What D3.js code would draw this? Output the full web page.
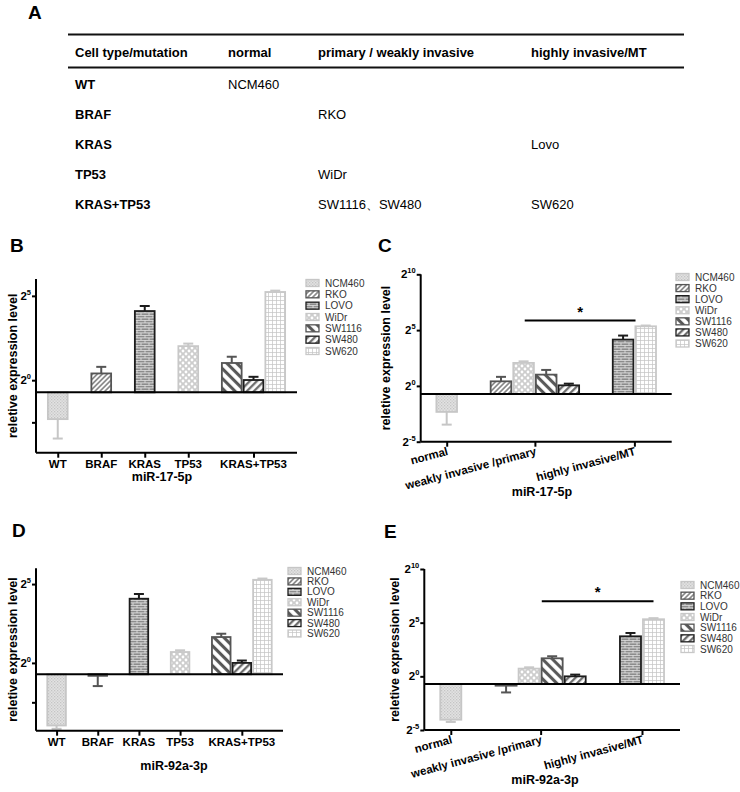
<!DOCTYPE html>
<html><head><meta charset="utf-8">
<script src="https://cdn.jsdelivr.net/npm/d3@7"></script>
<style>
body{margin:0;background:#fff;}
svg{font-family:"Liberation Sans",Arial,sans-serif;}
</style></head>
<body><svg id="fig" width="740" height="792"></svg>
<script>
// ---------- data ----------
const tableHeader = ["Cell type/mutation","normal","primary / weakly invasive","highly invasive/MT"];
const tableRows = ["WT","BRAF","KRAS","TP53","KRAS+TP53"];
const tableNormal = ["NCM460","","","",""];
const tablePrimary = ["","RKO","","WiDr","SW1116、SW480"];
const tableHighly = ["","","Lovo","","SW620"];

const seriesNames = ["NCM460","RKO","LOVO","WiDr","SW1116","SW480","SW620"];
const mutationCats = ["WT","BRAF","KRAS","TP53","KRAS+TP53"];
const mutationGroups = [["NCM460"],["RKO"],["LOVO"],["WiDr"],["SW1116","SW480","SW620"]];
const invasiveCats = ["normal","weakly invasive /primary","highly invasive/MT"];
const invasiveGroups = [["NCM460"],["RKO","WiDr","SW1116","SW480"],["LOVO","SW620"]];

// values as log2(relative expression), order = seriesNames; SEM in log2 units
const b17 = [-2.31, 0.40, 4.10, 2.02, 1.02, 0.01, 5.23];
const b17Sem = [1.15, 0.39, 0.30, 0.15, 0.37, 0.19, 0.08];
const c17 = [-2.33, 0.41, 4.15, 2.06, 1.01, 0.05, 5.34];
const c17Sem = [1.14, 0.40, 0.36, 0.14, 0.42, 0.15, 0.07];
const d92 = [-3.97, -0.82, 4.07, 0.69, 1.64, 0.00, 5.27];
const d92Sem = [0.21, 0.65, 0.30, 0.11, 0.21, 0.15, 0.08];
const e92 = [-4.04, -0.87, 3.73, 0.72, 1.68, 0.00, 5.32];
const e92Sem = [0.21, 0.63, 0.31, 0.12, 0.19, 0.16, 0.10];
const barBase = -0.72;            // bars begin at 2^-0.72
const ticksMut = [5, 0, -2.5];    // labelled: 5, 0
const ticksInv = [10, 5, 0, -5];

// ---------- styles ----------
const outline = {NCM460:"#c6c6c6",RKO:"#555",LOVO:"#1c1c1c",WiDr:"#c8c8c8",SW1116:"#555",SW480:"#1c1c1c",SW620:"#c8c8c8"};
const patId = {NCM460:"pNcm",RKO:"pRko",LOVO:"pLovo",WiDr:"pWidr",SW1116:"pSw1116",SW480:"pSw480",SW620:"pSw620"};

const svg = d3.select("#fig");
const defs = svg.append("defs");
function pat(id,w,h,transform){const p=defs.append("pattern").attr("id",id).attr("patternUnits","userSpaceOnUse").attr("width",w).attr("height",h);if(transform)p.attr("patternTransform",transform);return p;}
let p;
p=pat("pNcm",3,3);p.append("rect").attr("width",3).attr("height",3).attr("fill","#e2e2e2");
p.append("rect").attr("x",0).attr("y",0).attr("width",1.3).attr("height",1.3).attr("fill","#c4c4c4");
p.append("rect").attr("x",1.5).attr("y",1.5).attr("width",1.3).attr("height",1.3).attr("fill","#cacaca");
p=pat("pRko",3.5,3.5,"rotate(45)");p.append("rect").attr("width",3.5).attr("height",3.5).attr("fill","#fff");
p.append("line").attr("x1",0.8).attr("x2",0.8).attr("y1",0).attr("y2",3.5).attr("stroke","#7a7a7a").attr("stroke-width",1.5);
p=pat("pLovo",8,5);p.append("rect").attr("width",8).attr("height",5).attr("fill","#8c8c8c");
p.append("line").attr("x1",0).attr("x2",8).attr("y1",0.4).attr("y2",0.4).attr("stroke","#e8e8e8").attr("stroke-width",0.8);
p.append("line").attr("x1",0).attr("x2",8).attr("y1",2.9).attr("y2",2.9).attr("stroke","#e8e8e8").attr("stroke-width",0.8);
p.append("line").attr("x1",1).attr("x2",1).attr("y1",0.4).attr("y2",2.9).attr("stroke","#e8e8e8").attr("stroke-width",0.8);
p.append("line").attr("x1",5).attr("x2",5).attr("y1",2.9).attr("y2",5).attr("stroke","#e8e8e8").attr("stroke-width",0.8);
p=pat("pWidr",6,6);p.append("rect").attr("width",6).attr("height",6).attr("fill","#cdcdcd");
[[0,0],[6,0],[0,6],[6,6],[3,3]].forEach(c=>p.append("circle").attr("cx",c[0]).attr("cy",c[1]).attr("r",1.4).attr("fill","#fff"));
p=pat("pSw1116",7,7,"rotate(-45)");p.append("rect").attr("width",7).attr("height",7).attr("fill","#fff");
p.append("line").attr("x1",1.6).attr("x2",1.6).attr("y1",0).attr("y2",7).attr("stroke","#555").attr("stroke-width",3);
p=pat("pSw480",5,5,"rotate(45)");p.append("rect").attr("width",5).attr("height",5).attr("fill","#fff");
p.append("line").attr("x1",1.2).attr("x2",1.2).attr("y1",0).attr("y2",5).attr("stroke","#666").attr("stroke-width",2.2);
p=pat("pSw620",4,4);p.append("rect").attr("width",4).attr("height",4).attr("fill","#fff");
p.append("line").attr("x1",0.4).attr("x2",0.4).attr("y1",0).attr("y2",4).attr("stroke","#c4c4c4").attr("stroke-width",0.8);
p.append("line").attr("x1",0).attr("x2",4).attr("y1",0.4).attr("y2",0.4).attr("stroke","#c4c4c4").attr("stroke-width",0.8);

// ---------- panel letters ----------
[["A",28,19],["B",10,252],["C",378,252],["D",12,537],["E",384,538]].forEach(l=>
  svg.append("text").attr("x",l[1]).attr("y",l[2]).attr("font-size",19).attr("font-weight","bold").text(l[0]));

// ---------- table A ----------
const colX = [75,228,318,531];
const tbl = svg.append("g");
tbl.append("line").attr("x1",68).attr("x2",684).attr("y1",34.5).attr("y2",34.5).attr("stroke","#111").attr("stroke-width",2);
tbl.append("line").attr("x1",68).attr("x2",684).attr("y1",67.5).attr("y2",67.5).attr("stroke","#111").attr("stroke-width",2);
tableHeader.forEach((h,i)=>tbl.append("text").attr("x",colX[i]).attr("y",56.5).attr("font-size",13).attr("font-weight","bold").text(h));
const rowY = d3.scaleLinear().domain([0,4]).range([88.5,208.5]);
tableRows.forEach((r,i)=>{
  tbl.append("text").attr("x",colX[0]).attr("y",rowY(i)).attr("font-size",13).attr("font-weight","bold").text(r);
  [tableNormal,tablePrimary,tableHighly].forEach((col,j)=>{ if(col[i]) tbl.append("text").attr("x",colX[j+1]).attr("y",rowY(i)).attr("font-size",13).text(col[i]);});
});

// ---------- bar panels ----------
function panel(cfg){
  const g = svg.append("g");
  const sizes = cfg.groups.map(a=>a.length);
  const T = cfg.pad*2 + d3.sum(sizes) + cfg.gap*(sizes.length-1);
  const x = d3.scaleLinear().domain([0,T]).range([cfg.x0,cfg.x1]);
  const y = d3.scaleLinear().domain(cfg.domain).range([cfg.yb,cfg.yt]);
  const bw = x(1)-x(0);
  const centers=[]; const bars=[];
  let pos = cfg.pad;
  cfg.groups.forEach((grp,gi)=>{
    centers.push(pos + grp.length/2);
    grp.forEach((s,j)=>{ const k=seriesNames.indexOf(s); bars.push({s,left:pos+j,v:cfg.values[k],e:cfg.sem[k]}); });
    pos += grp.length + cfg.gap;
  });
  // error bars
  bars.forEach(b=>{
    const dir = b.v>=barBase?1:-1;
    const cx = x(b.left+0.5), end = y(b.v+dir*b.e);
    g.append("line").attr("x1",cx).attr("x2",cx).attr("y1",y(b.v)).attr("y2",end).attr("stroke",outline[b.s]).attr("stroke-width",2);
    g.append("line").attr("x1",cx-5).attr("x2",cx+5).attr("y1",end).attr("y2",end).attr("stroke",outline[b.s]).attr("stroke-width",2);
  });
  // bars
  bars.forEach(b=>{
    const top = Math.min(y(b.v),y(barBase)), h = Math.abs(y(b.v)-y(barBase));
    g.append("rect").attr("x",x(b.left)+1).attr("y",top).attr("width",bw-2).attr("height",h)
      .attr("fill","url(#"+patId[b.s]+")").attr("stroke",outline[b.s]).attr("stroke-width",1.8);
  });
  // baseline
  g.append("line").attr("x1",cfg.x0).attr("x2",cfg.x1).attr("y1",y(barBase)).attr("y2",y(barBase)).attr("stroke","#000").attr("stroke-width",2);
  // axes
  const ya = g.append("g").attr("transform",`translate(${cfg.x0},0)`).call(d3.axisLeft(y).tickValues(cfg.ticks).tickSize(4).tickFormat(""));
  ya.select(".domain").attr("d",`M0,${cfg.yb}V${cfg.yt}`).attr("stroke","#000").attr("stroke-width",2);
  ya.selectAll(".tick line").attr("stroke","#000").attr("stroke-width",2);
  cfg.ticks.filter(t=>Number.isInteger(t)).forEach(t=>{
    const tx = g.append("text").attr("x",cfg.x0-5).attr("y",y(t)+4).attr("text-anchor","end").attr("font-weight","bold").attr("font-size",11.5);
    tx.append("tspan").text("2");
    tx.append("tspan").attr("dy",-5).attr("font-size",7.5).text(String(t));
  });
  const xs = d3.scaleOrdinal().domain(cfg.cats).range(centers.map(c=>x(c)));
  const xa = g.append("g").attr("transform",`translate(0,${cfg.yb})`).call(d3.axisBottom(xs).tickSize(5).tickFormat(""));
  xa.select(".domain").attr("d",`M${cfg.x0},0H${cfg.x1}`).attr("stroke","#000").attr("stroke-width",2);
  xa.selectAll(".tick line").attr("stroke","#000").attr("stroke-width",2);
  cfg.cats.forEach((c,i)=>{
    const cx = x(centers[i]);
    if(cfg.rotate){
      g.append("text").attr("transform",`translate(${cx+2},${cfg.yb+13}) rotate(-15)`).attr("text-anchor","end")
        .attr("font-weight","bold").attr("font-size",11.5).text(c);
    } else {
      g.append("text").attr("x",cx).attr("y",cfg.yb+15).attr("text-anchor","middle").attr("font-weight","bold").attr("font-size",11.5).text(c);
    }
  });
  // titles
  g.append("text").attr("x",cfg.titleX).attr("y",cfg.titleY).attr("text-anchor","middle").attr("font-weight","bold").attr("font-size",12.5).text(cfg.title);
  g.append("text").attr("transform",`translate(${cfg.ytitleX},${(cfg.yb+cfg.yt)/2}) rotate(-90)`).attr("text-anchor","middle")
    .attr("font-weight","bold").attr("font-size",12.5).text("reletive expression level");
  // significance
  if(cfg.sig){
    const sx1 = x(centers[cfg.sig[0]]+cfg.sig[2]), sx2 = x(centers[cfg.sig[1]]+cfg.sig[3]), sy = y(cfg.sig[4]);
    g.append("line").attr("x1",sx1).attr("x2",sx2).attr("y1",sy).attr("y2",sy).attr("stroke","#000").attr("stroke-width",2);
    g.append("text").attr("x",(sx1+sx2)/2).attr("y",sy-4).attr("text-anchor","middle").attr("font-weight","bold").attr("font-size",15).text("*");
  }
  // legend
  const ly = d3.scaleLinear().domain([0,6]).range([cfg.legY0,cfg.legY1]);
  seriesNames.forEach((s,i)=>{
    g.append("rect").attr("x",cfg.legX).attr("y",ly(i)-3.5).attr("width",13).attr("height",7)
      .attr("fill","url(#"+patId[s]+")").attr("stroke",outline[s]).attr("stroke-width",1.3);
    g.append("text").attr("x",cfg.legX+19).attr("y",ly(i)+3.6).attr("font-size",10).attr("fill","#333").text(s);
  });
}

panel({groups:mutationGroups,cats:mutationCats,values:b17,sem:b17Sem,pad:0.5,gap:1,
  x0:36,x1:297,yt:279,yb:452.7,domain:[-4.3,6],ticks:ticksMut,rotate:false,
  title:"miR-17-5p",titleX:162,titleY:481,ytitleX:17,legX:306,legY0:283,legY1:351});
panel({groups:invasiveGroups,cats:invasiveCats,values:c17,sem:c17Sem,pad:0.65,gap:1.4,
  x0:420.7,x1:671.7,yt:274.3,yb:441.7,domain:[-5,10],ticks:ticksInv,rotate:true,
  title:"miR-17-5p",titleX:542,titleY:496,ytitleX:390,legX:676,legY0:277,legY1:343.5,sig:[1,2,-0.45,0.05,5.86]});
panel({groups:mutationGroups,cats:mutationCats,values:d92,sem:d92Sem,pad:0.5,gap:1,
  x0:36,x1:283,yt:568.3,yb:730.7,domain:[-4.3,6],ticks:ticksMut,rotate:false,
  title:"miR-92a-3p",titleX:174,titleY:770,ytitleX:17,legX:288,legY0:571,legY1:633.5});
panel({groups:invasiveGroups,cats:invasiveCats,values:e92,sem:e92Sem,pad:0.65,gap:1.4,
  x0:424.3,x1:680,yt:569,yb:730,domain:[-5,10],ticks:ticksInv,rotate:true,
  title:"miR-92a-3p",titleX:545,titleY:784,ytitleX:399,legX:681,legY0:585,legY1:649,sig:[1,2,0.05,0.5,6.99]});
</script></body></html>
